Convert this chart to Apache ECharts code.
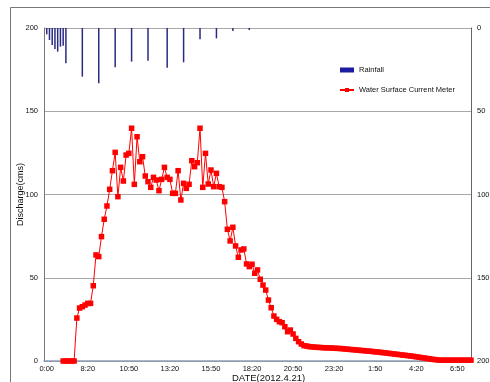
<!DOCTYPE html>
<html>
<head>
<meta charset="utf-8">
<script src="https://cdn.jsdelivr.net/npm/echarts@6/dist/echarts.min.js"></script>
<style>
  html, body { margin: 0; padding: 0; background: #fff; }
  #chart { width: 490px; height: 382px; }
</style>
</head>
<body>
<div id="chart"></div>
<script>
// shown tick labels, one every 15 categories (150 min)
const tickLabels = ['0:00', '8:20', '10:50', '13:20', '15:50', '18:20', '20:50', '23:20', '1:50', '4:20', '6:50']

// discharge (cms), every 10 min from 21 5:50
const discharge = [
  null, null, null, null, null, null, 0, 0, 0, 0,
  0, 25.8, 31.8, 32.6, 33.6, 34.6, 34.6, 45.2, 63.7, 62.7,
  74.7, 85.1, 93.1, 103.1, 114.3, 125.3, 98.7, 116.3, 108.1, 123.7,
  124.7, 139.8, 106.1, 134.7, 119.7, 122.7, 111.1, 107.7, 104.3, 110.3,
  108.7, 102.3, 109.1, 116.3, 110.3, 109.1, 100.7, 100.7, 114.3, 96.7,
  106.7, 103.7, 106.1, 120.3, 116.7, 119.1, 139.8, 104.3, 124.7, 106.3,
  114.7, 104.7, 112.7, 104.7, 104.3, 95.7, 79.1, 72.1, 80.3, 69.1,
  62.3, 66.7, 67.3, 58.3, 56.7, 58.1, 52.7, 54.7, 49.1, 45.6,
  42.6, 36.6, 32.0, 27.0, 25.0, 23.6, 23.0, 20.6, 17.6, 18.6,
  16.2, 13.6, 11.6, 10.2, 9.2, 9.0, 8.6, 8.5, 8.3, 8.2,
  8.1, 8.0, 7.9, 7.9, 7.8, 7.7, 7.6, 7.5, 7.4, 7.2,
  7.1, 6.9, 6.8, 6.6, 6.5, 6.3, 6.2, 6.0, 5.9, 5.7,
  5.5, 5.4, 5.2, 5.0, 4.8, 4.6, 4.4, 4.2, 4.0, 3.8,
  3.6, 3.4, 3.2, 3.0, 2.8, 2.5, 2.3, 2.0, 1.8, 1.5,
  1.3, 1.0, 0.8, 0.6, 0.5, 0.5, 0.5, 0.5, 0.5, 0.5,
  0.5, 0.5, 0.5, 0.5, 0.5, 0.5
]

// rainfall (mm), right axis, inverted
const rainTimes = ['21 5:50', '21 6:00', '21 6:10', '21 6:20', '21 6:30', '21 6:40', '21 6:50', '21 7:00',
  '21 8:00', '21 9:00', '21 10:00', '21 11:00', '21 12:00', '21 13:10', '21 14:10', '21 15:10',
  '21 16:10', '21 17:10', '21 18:10']
const rainValues = [3.8, 7.2, 10.2, 12.6, 14.2, 11.2, 10.6, 21.2,
  29.2, 33.2, 23.6, 20.2, 19.6, 23.8, 20.6, 6.8,
  6.2, 1.8, 1.2]

// categories: 10 min steps from 21 5:40 (one empty slot before the first reading)
const categories = []
for (let k = 0; k <= discharge.length; k++) {
  const m = 340 + k * 10
  const day = m >= 1440 ? 22 : 21
  const mm = m % 1440
  categories.push(day + ' ' + Math.floor(mm / 60) + ':' + String(mm % 60).padStart(2, '0'))
}

const font = 'Liberation Sans, Arial, sans-serif'
const ec = echarts.init(document.getElementById('chart'))
ec.setOption({
  animation: false,
  graphic: [{
    type: 'rect',
    shape: {x: 10.5, y: 7.5, width: 600, height: 500},
    style: {fill: 'none', stroke: '#777', lineWidth: 1}
  }],
  grid: {left: 44, right: 19, top: 28, bottom: 21, outerBoundsMode: 'none'},
  legend: {
    orient: 'vertical',
    left: 334,
    top: 61,
    itemWidth: 14,
    itemHeight: 5,
    itemGap: 12,
    textStyle: {fontSize: 7.5, color: '#111', fontFamily: font},
    data: [{name: 'Rainfall', icon: 'rect', itemStyle: {color: '#1c1ca0'}}, {name: 'Water Surface Current Meter'}]
  },
  xAxis: {
    type: 'category',
    data: categories,
    boundaryGap: false,
    name: 'DATE(2012.4.21)',
    nameLocation: 'middle',
    nameGap: 12,
    nameMoveOverlap: false,
    nameTextStyle: {fontSize: 9.5, color: '#111', fontFamily: font, padding: [0, 0, 0, 22]},
    axisLine: {lineStyle: {color: '#8898b0', width: 1.5, type: [1.5, 1]}},
    axisTick: {show: false},
    axisLabel: {
      interval: i => (i - 1) % 15 === 0,
      formatter: (v, i) => tickLabels[(i - 1) / 15] || '',
      fontSize: 7.5,
      color: '#111',
      fontFamily: font,
      margin: 4
    },
    splitLine: {show: false}
  },
  yAxis: [{
    type: 'value',
    min: 0,
    max: 200,
    interval: 50,
    name: 'Discharge(cms)',
    nameLocation: 'middle',
    nameGap: 19,
    nameMoveOverlap: false,
    nameTextStyle: {fontSize: 9, color: '#111', fontFamily: font},
    axisLine: {show: true, lineStyle: {color: '#777'}},
    axisTick: {show: false},
    axisLabel: {fontSize: 7.5, color: '#111', fontFamily: font, margin: 6},
    splitLine: {lineStyle: {color: '#a8a8a8', width: 1.2}}
  }, {
    type: 'value',
    min: 0,
    max: 200,
    interval: 50,
    inverse: true,
    axisLine: {show: true, lineStyle: {color: '#666'}},
    axisTick: {show: false},
    axisLabel: {fontSize: 7.5, color: '#111', fontFamily: font, margin: 6},
    splitLine: {show: false}
  }],
  series: [{
    name: 'Rainfall',
    type: 'bar',
    yAxisIndex: 1,
    barWidth: 1.5,
    itemStyle: {color: '#2a2a80'},
    data: rainTimes.map((t, k) => [t, rainValues[k]])
  }, {
    name: 'Water Surface Current Meter',
    type: 'line',
    yAxisIndex: 0,
    symbol: 'rect',
    symbolSize: 5.5,
    showAllSymbol: true,
    lineStyle: {color: '#ff0000', width: 1},
    itemStyle: {color: '#ff0000'},
    data: [null].concat(discharge)
  }]
})
</script>
</body>
</html>
